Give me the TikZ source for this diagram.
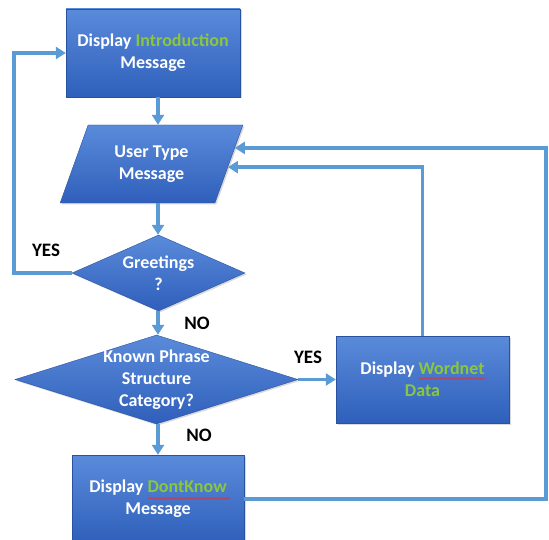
\documentclass[tikz,border=0pt]{standalone}
\usepackage{fontspec}
\setmainfont{Carlito}
\usetikzlibrary{shapes.geometric,arrows.meta,shadows,decorations.pathmorphing,calc}
\definecolor{flow}{HTML}{5B9BD5}
\definecolor{boxtop}{HTML}{5A8BDA}
\definecolor{boxbot}{HTML}{2F5FBB}
\definecolor{hl}{HTML}{8CC63F}
\definecolor{spell}{HTML}{E03030}

\begin{document}
\begin{tikzpicture}[x=1pt,y=-1pt,
  txt/.style={text=white, font=\fontsize{18}{22}\selectfont\bfseries, align=center},
  filled/.style={top color=boxtop, bottom color=boxbot, draw=boxbot!85!black, line width=0.4pt,
    drop shadow={opacity=0.3, shadow xshift=1.5pt, shadow yshift=-1.5pt}},
  procbox/.style={rectangle, filled, minimum width=174pt, minimum height=88pt, inner sep=0pt, txt},
  iobox/.style={trapezium, trapezium left angle=66, trapezium right angle=114, trapezium stretches=true,
    filled, minimum width=183pt, minimum height=78pt, inner sep=0pt, txt},
  decision/.style={diamond, filled, inner sep=0pt},
  lbl/.style={font=\fontsize{19}{22}\selectfont\bfseries, text=black},
  flow/.style={draw=flow, line width=3.5pt, -{Triangle[width=12pt,length=10pt]}},
  squiggle/.style={draw=spell, line width=0.5pt, decorate, decoration={snake, amplitude=0.7pt, segment length=2.5pt}}
]
\useasboundingbox (0,0) rectangle (549,540);
\clip (0,0) rectangle (549,540);

% guide columns for the main spine and the two return loops
\coordinate (spine) at (158,0);
\coordinate (lft) at (14,0);
\coordinate (rgt) at (546,0);

% shapes
\node[procbox] (intro) at (153,53) {Display \textcolor{hl}{Introduction}\\Message};
\node[iobox] (user) at (151.5,164) {User Type\\Message};
\node[decision, minimum width=173pt, minimum height=76pt] (greet) at (158.5,273) {};
\node[txt] (greettxt) at (greet) {Greetings\\?};
\node[decision, minimum width=283pt, minimum height=89pt] (known) at (156.5,379.5) {};
\node[txt] (knowntxt) at (known) {Known Phrase\\Structure\\Category?};
\node[procbox, minimum width=173pt, minimum height=87pt] (wordnet) at (422.5,379.5) {Display \textcolor{hl}{Wordnet}\\\textcolor{hl}{Data}};
\node[procbox, minimum width=172pt] (dk) at (158,499) {Display \textcolor{hl}{DontKnow}\\Message};

% spell-check underlines
\draw[squiggle] ($(wordnet.center)+(-3.5,-1)$) -- ++(66,0);
\draw[squiggle] ($(dk.center)+(-10,-0.5)$) -- ++(82,0);

% branch labels
\node[lbl] (yes1) at (46,250) {YES};
\node[lbl] (no1) at (197,323) {NO};
\node[lbl] (yes2) at (308,357) {YES};
\node[lbl] (no2) at (199,435) {NO};

% entry points on the slanted right side of the input box
\coordinate (pin1) at ($(user.top right corner)!0.295!(user.bottom right corner)$);
\coordinate (pin2) at ($(user.top right corner)!0.54!(user.bottom right corner)$);

% main flow
\draw[flow] (intro.south -| spine) -- (user.north -| spine);
\draw[flow] (user.south -| spine) -- (greet.north -| spine);
\draw[flow] (greet.south -| spine) -- (known.north -| spine);
\draw[flow] (known.south -| spine) -- (dk.north -| spine);
\draw[flow] (known.east) -- (wordnet.west);

% return loops
\draw[flow] (greet.west) -- (greet.west -| lft) -- (intro.west -| lft) -- (intro.west);
\draw[flow] (wordnet.north) -- (wordnet.north |- pin2) -- (pin2);
\draw[flow] (dk.east) -- (dk.east -| rgt) -- (pin1 -| rgt) -- (pin1);
\end{tikzpicture}
\end{document}
